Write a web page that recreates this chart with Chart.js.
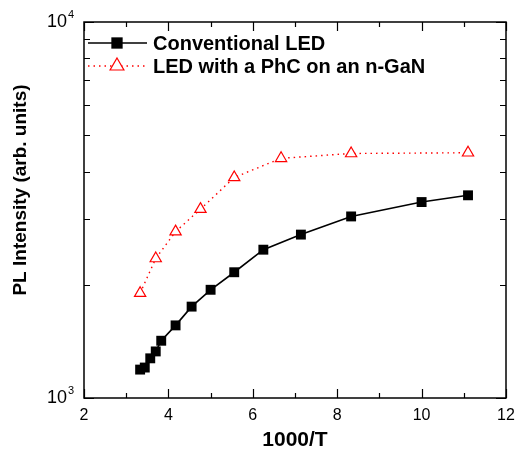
<!DOCTYPE html>
<html>
<head>
<meta charset="utf-8">
<script src="https://cdn.jsdelivr.net/npm/chart.js@4/dist/chart.umd.min.js"></script>
<style>
  body { margin: 0; background: #fff; }
  canvas { display: block; }
</style>
</head>
<body>
<canvas id="plChart" width="517" height="455"></canvas>
<script>
// values (x = 1000/T, y = PL intensity)
const convX = [3.33, 3.44, 3.57, 3.70, 3.83, 4.17, 4.55, 5.00, 5.56, 6.25, 7.14, 8.33, 10.0, 11.1];
const convY = [1190, 1205, 1275, 1330, 1420, 1560, 1750, 1940, 2160, 2480, 2720, 3040, 3320, 3460];
const phcX = [3.33, 3.70, 4.17, 4.76, 5.56, 6.67, 8.33, 11.1];
const phcY = [1900, 2350, 2770, 3180, 3860, 4340, 4470, 4490];

const xTicks = [2, 4, 6, 8, 10, 12];
const xMinorTicks = [3, 5, 7, 9, 11];
const yMajorTicks = [1000, 10000];
const yMinorTicks = [2000, 3000, 4000, 5000, 6000, 7000, 8000, 9000];
const yTickLabels = [['10', '3'], ['10', '4']];

const seriesNames = ['Conventional LED', 'LED with a PhC on an n-GaN'];
const xTitle = '1000/T';
const yTitle = 'PL Intensity (arb. units)';

const FONT = '"Liberation Sans", Arial, sans-serif';

function toPoints(xs, ys) {
  return xs.map((x, i) => ({ x: x, y: ys[i] }));
}

const framePlugin = {
  id: 'frame',
  afterDraw(chart) {
    const ctx = chart.ctx;
    const area = chart.chartArea;
    const xs = chart.scales.x;
    const ys = chart.scales.y;
    ctx.save();

    // frame
    ctx.strokeStyle = '#000';
    ctx.lineWidth = 1.5;
    ctx.strokeRect(area.left, area.top, area.right - area.left, area.bottom - area.top);

    // inward ticks on all four sides
    ctx.lineWidth = 1.2;
    ctx.beginPath();
    const xTick = (v, len) => {
      const px = Math.round(xs.getPixelForValue(v)) + 0.5;
      ctx.moveTo(px, area.bottom); ctx.lineTo(px, area.bottom - len);
      ctx.moveTo(px, area.top); ctx.lineTo(px, area.top + len);
    };
    const yTick = (v, len) => {
      const py = Math.round(ys.getPixelForValue(v)) + 0.5;
      ctx.moveTo(area.left, py); ctx.lineTo(area.left + len, py);
      ctx.moveTo(area.right, py); ctx.lineTo(area.right - len, py);
    };
    xTicks.forEach(v => xTick(v, 9));
    xMinorTicks.forEach(v => xTick(v, 5));
    yMajorTicks.forEach(v => yTick(v, 10));
    yMinorTicks.forEach(v => yTick(v, 6));
    ctx.stroke();

    // x tick labels
    ctx.fillStyle = '#000';
    ctx.font = '16px ' + FONT;
    ctx.textAlign = 'center';
    ctx.textBaseline = 'middle';
    xTicks.forEach(v => {
      ctx.fillText(String(v), xs.getPixelForValue(v), area.bottom + 18);
    });

    // y tick labels with superscript exponent
    yMajorTicks.forEach((v, i) => {
      const py = ys.getPixelForValue(v);
      ctx.font = '18px ' + FONT;
      ctx.textAlign = 'right';
      ctx.textBaseline = 'middle';
      ctx.fillText(yTickLabels[i][0], 67, py);
      ctx.font = '11px ' + FONT;
      ctx.textAlign = 'left';
      ctx.fillText(yTickLabels[i][1], 68, py - 7);
    });

    // axis titles
    ctx.font = 'bold 21px ' + FONT;
    ctx.textAlign = 'center';
    ctx.textBaseline = 'middle';
    ctx.fillText(xTitle, (area.left + area.right) / 2, 440);

    ctx.save();
    ctx.translate(21, 190);
    ctx.rotate(-Math.PI / 2);
    ctx.font = 'bold 19px ' + FONT;
    ctx.fillText(yTitle, 0, 0);
    ctx.restore();

    // legend, drawn from the dataset styles
    const legendRows = [43, 66];
    chart.data.datasets.forEach((ds, i) => {
      const ly = legendRows[i];
      ctx.save();
      ctx.strokeStyle = ds.borderColor;
      ctx.lineWidth = ds.borderWidth;
      ctx.setLineDash(ds.borderDash || []);
      ctx.beginPath();
      ctx.moveTo(88, ly);
      ctx.lineTo(147, ly);
      ctx.stroke();
      ctx.restore();

      ctx.save();
      ctx.strokeStyle = ds.borderColor;
      ctx.fillStyle = ds.pointBackgroundColor;
      ctx.lineWidth = ds.pointBorderWidth;
      Chart.helpers.drawPoint(ctx, {
        pointStyle: ds.pointStyle,
        radius: 8,
        rotation: 0,
        borderWidth: ds.pointBorderWidth
      }, 117, ly);
      ctx.restore();

      ctx.fillStyle = '#000';
      ctx.font = 'bold 20px ' + FONT;
      ctx.textAlign = 'left';
      ctx.textBaseline = 'middle';
      ctx.fillText(ds.label, 153, ly + 1);
    });

    ctx.restore();
  }
};

new Chart(document.getElementById('plChart'), {
  type: 'scatter',
  data: {
    datasets: [
      {
        label: seriesNames[0],
        data: toPoints(convX, convY),
        showLine: true,
        borderColor: '#000000',
        backgroundColor: '#000000',
        pointBackgroundColor: '#000000',
        borderWidth: 1.6,
        pointStyle: 'rect',
        pointRadius: 7,
        pointBorderWidth: 0,
        tension: 0
      },
      {
        label: seriesNames[1],
        data: toPoints(phcX, phcY),
        showLine: true,
        borderColor: '#ff0000',
        backgroundColor: '#ffffff',
        pointBackgroundColor: '#ffffff',
        borderWidth: 1.4,
        borderDash: [1.5, 4],
        pointStyle: 'triangle',
        pointRadius: 6.5,
        pointBorderWidth: 1.2,
        tension: 0
      }
    ]
  },
  options: {
    responsive: false,
    animation: false,
    layout: { padding: { left: 84, right: 11, top: 22, bottom: 57 } },
    plugins: {
      legend: { display: false },
      tooltip: { enabled: false }
    },
    scales: {
      x: { type: 'linear', min: 2, max: 12, display: false },
      y: { type: 'logarithmic', min: 1000, max: 10000, display: false }
    }
  },
  plugins: [framePlugin]
});
</script>
</body>
</html>
